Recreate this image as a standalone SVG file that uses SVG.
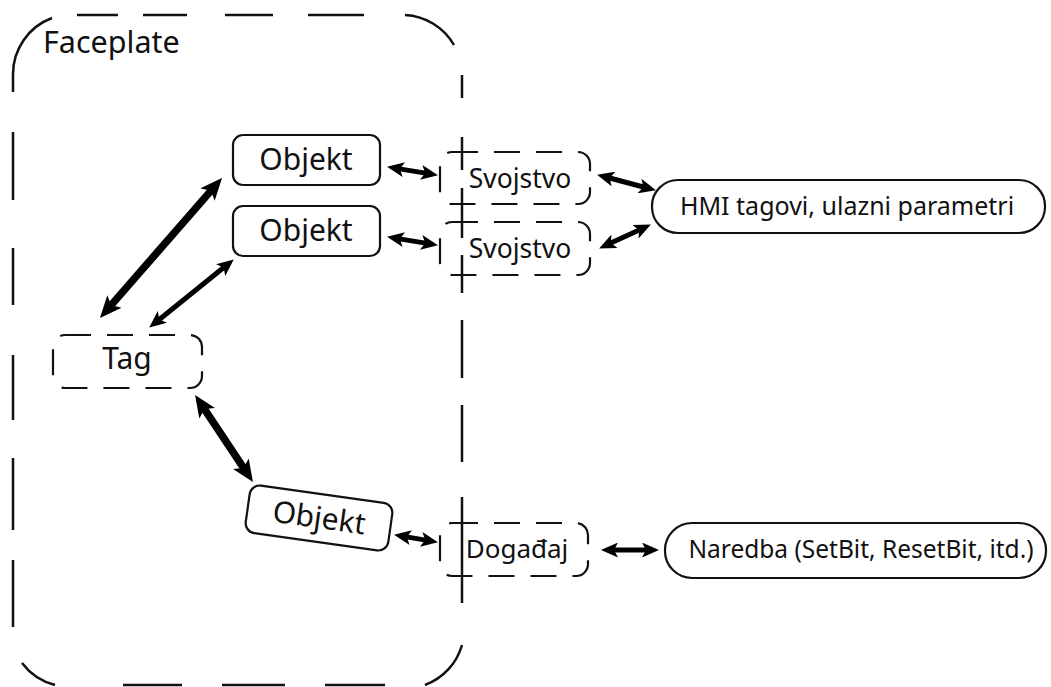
<svg xmlns="http://www.w3.org/2000/svg" width="1051" height="687" viewBox="0 0 1051 687">
<style>
text{font-family:"Noto Sans","Open Sans","DejaVu Sans",sans-serif;fill:#111;text-anchor:middle}
.solid{fill:#fff;stroke:#111;stroke-width:2.2}
.dash{fill:none;stroke:#111;stroke-width:2.2;stroke-dasharray:26 16}
.frame{fill:none;stroke:#111;stroke-width:2.5;stroke-linecap:butt}
.big{stroke:#000;stroke-width:7.5;fill:none;marker-start:url(#hb);marker-end:url(#hb)}
.med{stroke:#000;stroke-width:5;fill:none;marker-start:url(#hs);marker-end:url(#hs)}
</style>
<defs>
<marker id="hb" markerUnits="userSpaceOnUse" viewBox="0 0 22 19" markerWidth="22" markerHeight="19" refX="8" refY="9.5" orient="auto-start-reverse"><path d="M0,0 L22,9.5 L0,19 L5,9.5 z" fill="#000"/></marker>
<marker id="hs" markerUnits="userSpaceOnUse" viewBox="0 0 17 15" markerWidth="17" markerHeight="15" refX="6" refY="7.5" orient="auto-start-reverse"><path d="M0,0 L17,7.5 L0,15 L4,7.5 z" fill="#000"/></marker>
</defs>
<g id="frame">
<path class="frame" d="M13,92 L13,74 A60,60 0 0 1 52,18 M77,15 L118,15 M143,15 L187,15 M225,15 L273,15 M308,15 L364,15 M405,15 A60,60 0 0 1 454,45 M462,75 L462,98 M462,137 L462,170 M462,188 L462,238 M462,255 L462,293 M462,320 L462,378 M462,405 L462,462 M462,497 L462,603 M462,645 A60,60 0 0 1 425,685 M385,685 L325,685 M285,685 L222,685 M182,685 L123,685 M55,685 A60,60 0 0 1 22,663 M13,627 L13,560 M13,530 L13,458 M13,420 L13,355 M13,305 L13,248 M13,200 L13,132"/>
<text x="43" y="53" font-size="30.5" style="text-anchor:start">Faceplate</text>
</g>
<g id="objekt1"><rect class="solid" x="233" y="135" width="147" height="50" rx="10"/><text x="306" y="170" font-size="30">Objekt</text></g>
<g id="objekt2"><rect class="solid" x="233" y="206" width="147" height="50" rx="10"/><text x="306" y="241" font-size="30">Objekt</text></g>
<g id="objekt3" transform="translate(319,518) rotate(8)"><rect class="solid" x="-72" y="-24" width="144" height="48" rx="10"/><text x="0" y="10" font-size="30">Objekt</text></g>
<g id="tag"><rect class="dash" x="53" y="335" width="149" height="53" rx="12"/><text x="127" y="369" font-size="30">Tag</text></g>
<g id="svojstvo1"><rect class="dash" x="440" y="152" width="150" height="52" rx="12"/><text x="520" y="188" font-size="26.5">Svojstvo</text></g>
<g id="svojstvo2"><rect class="dash" x="440" y="222" width="150" height="53" rx="12"/><text x="520" y="258" font-size="26.5">Svojstvo</text></g>
<g id="dogadjaj"><rect class="dash" x="440" y="523" width="148" height="53" rx="12"/><text x="517" y="558" font-size="26">Događaj</text></g>
<g id="hmi"><rect class="solid" x="652" y="180" width="393" height="53" rx="26"/><text x="847" y="215" font-size="25">HMI tagovi, ulazni parametri</text></g>
<g id="naredba"><rect class="solid" x="665" y="523" width="381" height="55" rx="27"/><text x="861" y="558" font-size="24.5">Naredba (SetBit, ResetBit, itd.)</text></g>
<g id="connectors">
<path class="big" d="M212.8,188.6 L109.2,307.4"/>
<path class="med" d="M225.2,266.3 L157.8,320.7"/>
<path class="big" d="M202.8,406.6 L245.2,470.4"/>
<path class="med" d="M397.9,168.6 L427.1,173.4"/>
<path class="med" d="M397.9,238.6 L427.1,243.4"/>
<path class="med" d="M607.7,177.5 L645.3,187.5"/>
<path class="med" d="M609.1,243.8 L640.9,229.2"/>
<path class="med" d="M404.9,536.6 L427.1,540.4"/>
<path class="med" d="M612,550 L648,550"/>
</g>
</svg>
